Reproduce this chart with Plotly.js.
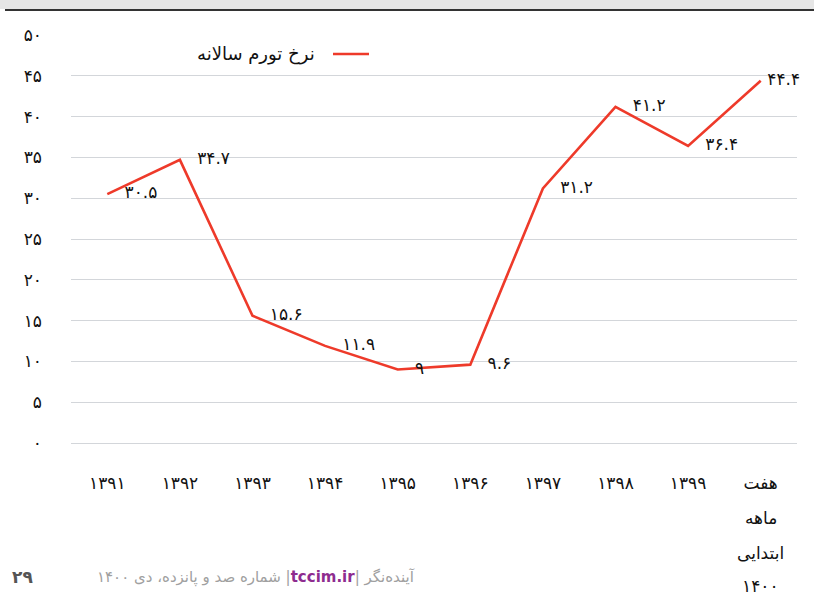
<!DOCTYPE html>
<html>
<head>
<meta charset="utf-8">
<script src="https://cdn.plot.ly/plotly-3.0.1.min.js"></script>
<style>
html,body{margin:0;padding:0;background:#fff;}
#chart{width:814px;height:596px;}
</style>
</head>
<body>
<div id="chart"></div>
<script>
// ---- data ----
var categories = ['1391','1392','1393','1394','1395','1396','1397','1398','1399','1400h7'];
var tickLabels = ['۱۳۹۱','۱۳۹۲','۱۳۹۳','۱۳۹۴','۱۳۹۵','۱۳۹۶','۱۳۹۷','۱۳۹۸','۱۳۹۹','هفت'];
var lastLabelExtraLines = ['ماهه','ابتدایی','۱۴۰۰'];
var inflation = [30.5, 34.7, 15.6, 11.9, 9.0, 9.6, 31.2, 41.2, 36.4, 44.4];
var valueLabels = ['۳۰.۵','۳۴.۷','۱۵.۶','۱۱.۹','۹','۹.۶','۳۱.۲','۴۱.۲','۳۶.۴','۴۴.۴'];
var yTickVals = [0,5,10,15,20,25,30,35,40,45,50];
var yTickText = ['۰','۵','۱۰','۱۵','۲۰','۲۵','۳۰','۳۵','۴۰','۴۵','۵۰'];
var seriesName = 'نرخ تورم سالانه';
var footerText = 'شماره صد و پانزده، دی ۱۴۰۰';
var footerSite = 'tccim.ir';
var footerMag = 'آینده‌نگر';
var pageNumber = '۲۹';

// ---- style ----
var RED = '#ee3a2a';
var FONT = 'DejaVu Sans, sans-serif';
var markerSizes = inflation.map(function(v,i){ return i === inflation.length-1 ? 9 : 26; });

var trace = {
  type: 'scatter',
  mode: 'lines+markers+text',
  x: categories,
  y: inflation,
  text: valueLabels,
  textposition: 'middle right',
  textfont: {family: FONT, size: 17, color: '#111'},
  line: {color: RED, width: 2.6},
  marker: {size: markerSizes, color: 'rgba(0,0,0,0)', line: {width: 0, color: 'rgba(0,0,0,0)'}},
  name: seriesName,
  showlegend: false,
  hoverinfo: 'skip',
  cliponaxis: false
};

var H = 596, plotTop = 35, plotBottom = 443;
var ph = plotBottom - plotTop;
function py(pix){ return (plotBottom - pix) / ph; }

var annotations = [];
var extraY = [518, 553, 586];
lastLabelExtraLines.forEach(function(t, i){
  annotations.push({
    text: t, xref: 'x', x: categories[categories.length-1], yref: 'paper', y: py(extraY[i]),
    xanchor: 'center', yanchor: 'middle', showarrow: false,
    font: {family: FONT, size: 17, color: '#111'}
  });
});
// legend text
annotations.push({
  text: seriesName, xref: 'paper', x: (317-71)/726, yref: 'paper', y: py(54),
  xanchor: 'right', yanchor: 'middle', showarrow: false,
  font: {family: FONT, size: 18, color: '#111'}
});
// footer
annotations.push({
  text: '<span style="color:#a0a0a0">' + footerText + ' |</span><b><span style="color:#8e2c8f">' + footerSite + '</span></b><span style="color:#a0a0a0">| ' + footerMag + '</span>',
  xref: 'paper', x: (95-71)/726, yref: 'paper', y: py(577),
  xanchor: 'left', yanchor: 'middle', showarrow: false,
  font: {family: FONT, size: 15, color: '#a0a0a0'}
});
annotations.push({
  text: '<b>' + pageNumber + '</b>',
  xref: 'paper', x: (10-71)/726, yref: 'paper', y: py(577),
  xanchor: 'left', yanchor: 'middle', showarrow: false,
  font: {family: FONT, size: 17, color: '#555'}
});

var shapes = [
  // top grey band
  {type: 'rect', xref: 'paper', yref: 'paper', x0: -71/726, x1: (814-71)/726, y0: py(0), y1: py(9),
   fillcolor: '#e6e6e6', line: {width: 0}, layer: 'below'},
  {type: 'line', xref: 'paper', yref: 'paper', x0: (5-71)/726, x1: (814-71)/726, y0: py(10), y1: py(10),
   line: {color: '#333', width: 2}},
  // legend line sample
  {type: 'line', xref: 'paper', yref: 'paper', x0: (333-71)/726, x1: (369-71)/726, y0: py(54), y1: py(54),
   line: {color: RED, width: 2.6}}
];

var layout = {
  width: 814, height: 596,
  margin: {l: 71, r: 17, t: plotTop, b: H - plotBottom},
  paper_bgcolor: '#fff', plot_bgcolor: '#fff',
  font: {family: FONT, color: '#111'},
  showlegend: false,
  xaxis: {
    type: 'category',
    tickvals: categories,
    ticktext: tickLabels,
    showgrid: false, zeroline: false, showline: false,
    ticks: '', ticklabelstandoff: 28,
    tickfont: {family: FONT, size: 17, color: '#111'},
    range: [-0.5, categories.length - 0.5],
    fixedrange: true
  },
  yaxis: {
    range: [0, 50],
    tickvals: yTickVals, ticktext: yTickText,
    showgrid: true, gridcolor: '#d3d6da', gridwidth: 1,
    zeroline: true, zerolinecolor: '#d3d6da', zerolinewidth: 1,
    showline: false, ticks: '', ticklabelstandoff: 28,
    tickfont: {family: FONT, size: 17, color: '#111'},
    fixedrange: true
  },
  annotations: annotations,
  shapes: shapes
};

Plotly.newPlot('chart', [trace], layout, {displayModeBar: false, staticPlot: true});
</script>
</body>
</html>
